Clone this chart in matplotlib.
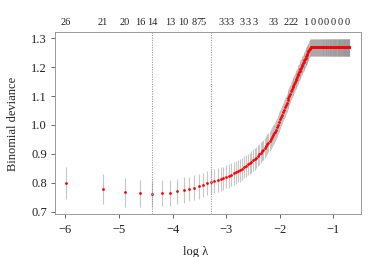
import numpy as np
import matplotlib
matplotlib.use("Agg")
import matplotlib.pyplot as plt
import matplotlib.transforms as mtransforms

plt.rcParams['font.family'] = ['Liberation Serif', 'DejaVu Serif']

# lambda grid: 0.0025, 0.0050, ... 0.5 (200 values)
lambdas = [round(0.0025 * k, 4) for k in range(1, 201)]

# mean cross-validated binomial deviance
cvm = [
    0.800, 0.777, 0.767, 0.763, 0.761, 0.763, 0.766, 0.770, 0.774, 0.778,
    0.783, 0.787, 0.793, 0.798, 0.802, 0.806, 0.810, 0.813, 0.816, 0.820,
    0.823, 0.827, 0.832, 0.836, 0.840, 0.843, 0.849, 0.853, 0.858, 0.863,
    0.867, 0.872, 0.878, 0.882, 0.887, 0.893, 0.898, 0.904, 0.909, 0.914,
    0.920, 0.927, 0.933, 0.939, 0.945, 0.951, 0.958, 0.964, 0.971, 0.977,
    0.984, 0.992, 1.001, 1.010, 1.019, 1.028, 1.036, 1.045, 1.053, 1.061,
    1.069, 1.077, 1.085, 1.093, 1.101, 1.108, 1.116, 1.124, 1.130, 1.136,
    1.142, 1.148, 1.154, 1.160, 1.165, 1.171, 1.177, 1.182, 1.187, 1.193,
    1.198, 1.203, 1.208, 1.213, 1.218, 1.223, 1.228, 1.233, 1.238, 1.242,
    1.247, 1.251, 1.255, 1.260, 1.264, 1.267, 1.268, 1.268, 1.268, 1.268,
    1.268, 1.268, 1.268, 1.268, 1.268, 1.268, 1.268, 1.268, 1.268, 1.268,
    1.268, 1.268, 1.268, 1.268, 1.268, 1.268, 1.268, 1.268, 1.268, 1.268,
    1.268, 1.268, 1.268, 1.268, 1.268, 1.268, 1.268, 1.268, 1.268, 1.268,
    1.268, 1.268, 1.268, 1.268, 1.268, 1.268, 1.268, 1.268, 1.268, 1.268,
    1.268, 1.268, 1.268, 1.268, 1.268, 1.268, 1.268, 1.268, 1.268, 1.268,
    1.268, 1.268, 1.268, 1.268, 1.268, 1.268, 1.268, 1.268, 1.268, 1.268,
    1.268, 1.268, 1.268, 1.268, 1.268, 1.268, 1.268, 1.268, 1.268, 1.268,
    1.268, 1.268, 1.268, 1.268, 1.268, 1.268, 1.268, 1.268, 1.268, 1.268,
    1.268, 1.268, 1.268, 1.268, 1.268, 1.268, 1.268, 1.268, 1.268, 1.268,
    1.268, 1.268, 1.268, 1.268, 1.268, 1.268, 1.268, 1.268, 1.268, 1.268,
]

# standard error of the deviance
cvsd = [
    0.055, 0.052, 0.050, 0.047, 0.046, 0.045, 0.045, 0.044, 0.044, 0.043,
    0.043, 0.043, 0.042, 0.042, 0.042, 0.041, 0.041, 0.041, 0.040, 0.040,
    0.040, 0.040, 0.039, 0.039, 0.039, 0.039, 0.038, 0.038, 0.038, 0.038,
    0.037, 0.037, 0.037, 0.037, 0.036, 0.036, 0.036, 0.036, 0.035, 0.035,
    0.035, 0.035, 0.035, 0.034, 0.034, 0.034, 0.034, 0.034, 0.033, 0.033,
    0.033, 0.033, 0.033, 0.033, 0.032, 0.032, 0.032, 0.032, 0.032, 0.032,
    0.032, 0.031, 0.031, 0.031, 0.031, 0.031, 0.031, 0.031, 0.031, 0.031,
    0.031, 0.031, 0.030, 0.030, 0.030, 0.030, 0.030, 0.030, 0.030, 0.030,
    0.030, 0.030, 0.030, 0.030, 0.030, 0.030, 0.030, 0.030, 0.030, 0.030,
    0.030, 0.030, 0.030, 0.030, 0.030, 0.030, 0.030, 0.030, 0.030, 0.030,
    0.030, 0.030, 0.030, 0.030, 0.030, 0.030, 0.030, 0.030, 0.030, 0.030,
    0.030, 0.030, 0.030, 0.030, 0.030, 0.030, 0.030, 0.030, 0.030, 0.030,
    0.030, 0.030, 0.030, 0.030, 0.030, 0.030, 0.030, 0.030, 0.030, 0.030,
    0.030, 0.030, 0.030, 0.030, 0.030, 0.030, 0.030, 0.030, 0.030, 0.030,
    0.030, 0.030, 0.030, 0.030, 0.030, 0.030, 0.030, 0.030, 0.030, 0.030,
    0.030, 0.030, 0.030, 0.030, 0.030, 0.030, 0.030, 0.030, 0.030, 0.030,
    0.030, 0.030, 0.030, 0.030, 0.030, 0.030, 0.030, 0.030, 0.030, 0.030,
    0.030, 0.030, 0.030, 0.030, 0.030, 0.030, 0.030, 0.030, 0.030, 0.030,
    0.030, 0.030, 0.030, 0.030, 0.030, 0.030, 0.030, 0.030, 0.030, 0.030,
    0.030, 0.030, 0.030, 0.030, 0.030, 0.030, 0.030, 0.030, 0.030, 0.030,
]

# number of nonzero coefficients shown on the top axis (index into lambdas, 1-based)
top_idx = [1, 2, 3, 4, 5, 7, 9, 11, 12, 13, 18, 20, 22, 27, 30, 34, 46, 50,
           61, 67, 73, 89, 101, 115, 130, 147, 167, 190]
top_nzero = [26, 21, 20, 16, 14, 13, 10, 8, 7, 5, 3, 3, 3, 3, 3, 3, 3, 3,
             2, 2, 2, 1, 0, 0, 0, 0, 0, 0]

# lambda.min and lambda.1se
lambda_min = 0.0125
lambda_1se = 0.0375

x_ticks = [-6, -5, -4, -3, -2, -1]
y_ticks = [0.7, 0.8, 0.9, 1.0, 1.1, 1.2, 1.3]

loglam = np.log(np.array(lambdas))
cvm = np.array(cvm)
cvsd = np.array(cvsd)
cvup = cvm + cvsd
cvlo = cvm - cvsd

fig = plt.figure(figsize=(3.68, 2.57), dpi=100)
ax = fig.add_axes([0.1484, 0.1673, 0.832, 0.708])

# error bars
ax.vlines(loglam, cvlo, cvup, color='#999999', alpha=0.55, lw=0.8, zorder=1)
# mean deviance
ax.plot(loglam, cvm, 'o', color='red', markersize=2.0, markeredgewidth=0, zorder=3)

# dotted lines at lambda.min and lambda.1se
for lam in [lambda_min, lambda_1se]:
    ax.axvline(np.log(lam), color='#999999', lw=0.8, ls=(0, (1, 1.2)), zorder=4)

# R style 4% padding
xr = loglam.max() - loglam.min()
ax.set_xlim(loglam.min() - 0.04 * xr, loglam.max() + 0.04 * xr)
yr = cvup.max() - cvlo.min()
ax.set_ylim(cvlo.min() - 0.04 * yr, cvup.max() + 0.04 * yr)

ax.set_xticks(x_ticks)
ax.set_xticklabels([str(t).replace('-', '\u2212') for t in x_ticks])
ax.set_yticks(y_ticks)
ax.set_yticklabels(['%.1f' % t for t in y_ticks])
ax.tick_params(length=3.0, width=0.7, color='#666666', labelsize=9,
               labelcolor='#222222')
ax.tick_params(axis='x', pad=4.5)
ax.tick_params(axis='y', pad=2.5)
for s in ax.spines.values():
    s.set_color('#999999')
    s.set_linewidth(0.7)

ax.set_xlabel('log \u03bb', fontsize=9, color='#222222')
ax.xaxis.set_label_coords(0.46, -0.176)
ax.set_ylabel('Binomial deviance', fontsize=9, color='#222222')
ax.yaxis.set_label_coords(-0.117, 0.495)

# top axis labels
trans = mtransforms.blended_transform_factory(ax.transData, ax.transAxes)
for i, nz in zip(top_idx, top_nzero):
    ax.text(np.log(lambdas[i - 1]), 1.055, str(nz), transform=trans,
            ha='center', va='center', fontsize=7.5, color='#222222')

plt.savefig('out.png', dpi=100)
